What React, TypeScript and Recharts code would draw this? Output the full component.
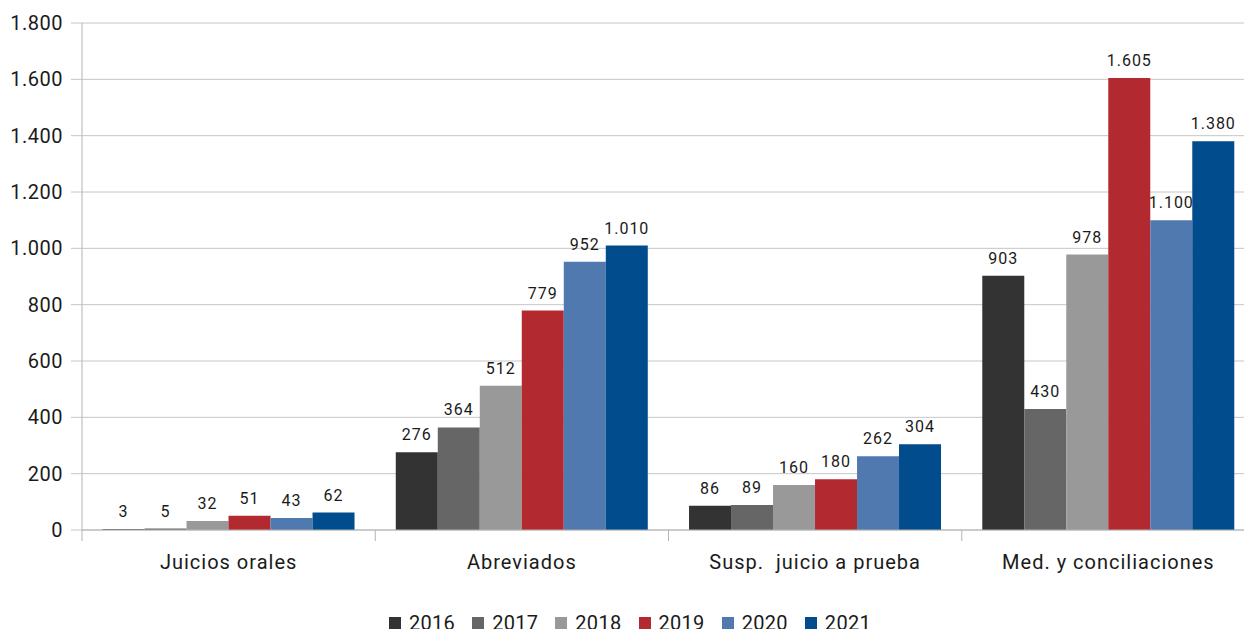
import React from "react";
import { BarChart, Bar, XAxis, YAxis, CartesianGrid, Legend, LabelList } from "recharts";

const categories = ["Juicios orales", "Abreviados", "Susp.  juicio a prueba", "Med. y conciliaciones"];
const years = ["2016", "2017", "2018", "2019", "2020", "2021"];
const v2016 = [3, 276, 86, 903];
const v2017 = [5, 364, 89, 430];
const v2018 = [32, 512, 160, 978];
const v2019 = [51, 779, 180, 1605];
const v2020 = [43, 952, 262, 1100];
const v2021 = [62, 1010, 304, 1380];
const yTicks = [0, 200, 400, 600, 800, 1000, 1200, 1400, 1600, 1800];
const colors = ["#333333", "#666666", "#999999", "#b22a30", "#5079b0", "#004c8c"];

const seriesValues = [v2016, v2017, v2018, v2019, v2020, v2021];
const data = categories.map((c, i) => {
  const row: any = { name: c };
  years.forEach((y, k) => {
    row[y] = seriesValues[k][i];
  });
  return row;
});

const fmt = (v: number) => String(v).replace(/\B(?=(\d{3})+(?!\d))/g, ".");
const FONT = "Roboto, 'Noto Sans', sans-serif";

const CatTick = (props: any) => {
  const { x, y, payload, width, visibleTicksCount, index } = props;
  const half = width && visibleTicksCount ? width / visibleTicksCount / 2 : 146.6;
  return (
    <g>
      <line x1={x - half} x2={x - half} y1={y} y2={y + 11} stroke="#b3b3b3" strokeWidth={1} />
      {index === visibleTicksCount - 1 && (
        <line x1={x + half} x2={x + half} y1={y} y2={y + 11} stroke="#b3b3b3" strokeWidth={1} />
      )}
      <text
        x={x}
        y={y + 39}
        textAnchor="middle"
        fontSize={20}
        letterSpacing={1}
        fill="#1a1a1a"
        fontFamily={FONT}
        xmlSpace="preserve"
        style={{ whiteSpace: "pre" }}
      >
        {payload.value}
      </text>
    </g>
  );
};

const renderLabel = (props: any) => {
  const vb = props.viewBox || {};
  const x = props.x ?? vb.x;
  const y = props.y ?? vb.y;
  const w = props.width ?? vb.width;
  return (
    <text x={x + w / 2} y={y - 12} textAnchor="middle" fontSize={16} letterSpacing={1} fill="#1a1a1a" fontFamily={FONT}>
      {fmt(props.value)}
    </text>
  );
};

const LegendContent = () => (
  <div style={{ display: "flex", justifyContent: "center", alignItems: "center", height: 24, fontFamily: FONT }}>
    {years.map((y, i) => (
      <div key={y} style={{ display: "flex", alignItems: "center", marginRight: i < years.length - 1 ? 17 : 0 }}>
        <div style={{ width: 12, height: 12, background: colors[i], marginRight: 8 }} />
        <span style={{ fontSize: 20, letterSpacing: 0.3, color: "#1a1a1a", lineHeight: "24px" }}>{y}</span>
      </div>
    ))}
  </div>
);

export default function App() {
  return (
    <div style={{ position: "fixed", left: 0, top: 0, width: 1244, height: 629, overflow: "hidden", background: "#fff" }}>
      <BarChart
        width={1260}
        height={660}
        data={data}
        margin={{ top: 23, right: 5, bottom: 0, left: 0 }}
        barCategoryGap="7%"
        barGap={0}
      >
        <CartesianGrid vertical={false} stroke="#c6c6c6" strokeWidth={1} />
        <XAxis
          dataKey="name"
          height={60}
          axisLine={{ stroke: "#b3b3b3" }}
          tickLine={false}
          tickSize={0}
          tickMargin={0}
          interval={0}
          tick={<CatTick />}
        />
        <YAxis
          width={82}
          domain={[0, 1800]}
          ticks={yTicks}
          interval={0}
          axisLine={{ stroke: "#b3b3b3" }}
          tickLine={{ stroke: "#c6c6c6" }}
          tickSize={11}
          tickMargin={8}
          tickFormatter={fmt}
          tick={{ fontSize: 20, fill: "#1a1a1a", fontFamily: FONT, letterSpacing: 0.5 }}
        />
        <Legend verticalAlign="bottom" height={70} content={<LegendContent />} wrapperStyle={{ top: 611, left: 0, width: 1260 }} />
        {years.map((y, i) => (
          <Bar key={y} dataKey={y} fill={colors[i]} isAnimationActive={false}>
            <LabelList dataKey={y} content={renderLabel} />
          </Bar>
        ))}
      </BarChart>
    </div>
  );
}
